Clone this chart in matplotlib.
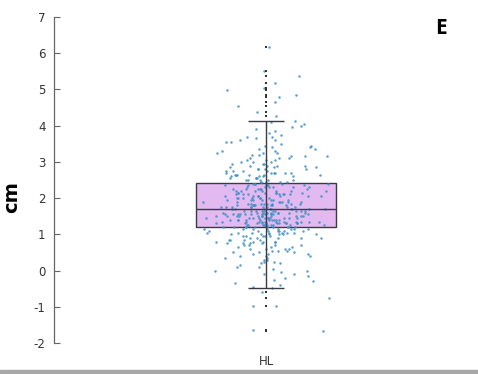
import numpy as np
import matplotlib
matplotlib.use("Agg")
import matplotlib.pyplot as plt
import seaborn as sns
from matplotlib.patches import Rectangle

# Box statistics (cm)
group_name = "HL"
box_q1 = 1.21
box_median = 1.71
box_q3 = 2.42
whisker_low = -0.49
whisker_high = 4.14
flier_values = [-1.66, -1.64, -0.98, -0.97, -0.76, -0.58,
                4.28, 4.39, 4.53, 4.66, 4.80, 4.85, 4.99, 5.03, 5.19, 5.36, 5.52, 6.18]

# Individual measurements: core levels (cm) with how many points sit at each level
core_levels = [-0.45, -0.40, -0.35, -0.30, -0.25, -0.20, -0.15, -0.10, -0.05,
               0.00, 0.05, 0.10, 0.15, 0.20, 0.25, 0.30, 0.35,
               0.40, 0.45, 0.50, 0.55, 0.60, 0.65, 0.70, 0.75,
               0.80, 0.85, 0.90, 0.95, 1.00, 1.05, 1.10, 1.15,
               1.20, 1.25, 1.30, 1.35, 1.40, 1.45, 1.50, 1.55, 1.60, 1.65,
               1.70, 1.75, 1.80, 1.85, 1.90, 1.95, 2.00, 2.05, 2.10, 2.15,
               2.20, 2.25, 2.30, 2.35, 2.40,
               2.45, 2.50, 2.55, 2.60, 2.65, 2.70, 2.75, 2.80,
               2.85, 2.90, 2.95, 3.00, 3.05, 3.10, 3.15,
               3.20, 3.25, 3.30, 3.35, 3.40, 3.45, 3.50, 3.55, 3.60,
               3.65, 3.70, 3.75, 3.80, 3.85, 3.90, 3.95, 4.00, 4.05, 4.10]
core_counts = [1, 1, 1, 1, 1, 1, 1, 2, 1,
               2, 1, 2, 1, 2, 2, 2, 2,
               3, 3, 3, 3, 4, 3, 4, 4,
               5, 4, 5, 5, 6, 7, 7, 8,
               10, 10, 11, 11, 10, 11, 11, 11, 10, 10,
               9, 9, 8, 8, 7, 7, 7, 7, 7, 6,
               7, 6, 6, 6, 5,
               5, 5, 4, 4, 6, 6, 4, 4,
               3, 4, 3, 3, 3, 3, 3,
               2, 3, 2, 2, 2, 2, 1, 2, 2,
               1, 2, 1, 1, 1, 1, 1, 1, 1, 1]
extra_values = [-0.49, 4.14]

point_values = np.concatenate([np.repeat(core_levels, core_counts),
                               extra_values, flier_values])

y_ticks = [-2, -1, 0, 1, 2, 3, 4, 5, 6, 7]

# points crowd round the centre line and thin out sideways:
# interleave a few strips of different jitter widths
jitter_widths = [0.035, 0.07, 0.105, 0.15]

fig = plt.figure(figsize=(4.78, 3.74), dpi=100)
ax = fig.add_axes([54 / 478, 1 - 343 / 374, 1 - 54 / 478, 326 / 374])

line_col = "#3b3b45"

# box (drawn first so the points sit on top)
ax.bar(0, box_q3 - box_q1, bottom=box_q1, width=0.33, color="#e2b9f1",
       edgecolor=line_col, linewidth=1.0, zorder=1)

# jittered points
np.random.seed(7)
n_strips = len(jitter_widths)
for i, jit in enumerate(jitter_widths):
    vals = point_values[i::n_strips]
    sns.stripplot(x=np.zeros(len(vals)), y=vals, native_scale=True,
                  jitter=jit, color="#3f90c2", size=1.8, alpha=0.85,
                  linewidth=0, ax=ax, zorder=2)

# whisker line through the box, caps and median
ax.vlines(0, whisker_low, whisker_high, color=line_col, linewidth=1.0, zorder=3)
ax.hlines([whisker_low, whisker_high], -0.042, 0.042, color=line_col, linewidth=1.0, zorder=3)
ax.hlines(box_median, -0.165, 0.165, color=line_col, linewidth=1.0, zorder=3)

# outliers
ax.scatter(np.zeros(len(flier_values)), flier_values, s=4, marker="s",
           color="#333333", linewidths=0, zorder=4)

ax.set_xlim(-0.5, 0.5)
ax.set_ylim(-2, 7)
ax.set_yticks(y_ticks)
ax.set_yticklabels([str(t) for t in y_ticks], fontsize=8.5, color="#333333")
ax.set_xticks([0])
ax.set_xticklabels([group_name], fontsize=8.5, color="#333333")
ax.tick_params(axis="y", direction="in", length=4, width=0.8, color="#666666", pad=6)
ax.tick_params(axis="x", length=0, pad=8.5)

for side in ["top", "right", "bottom"]:
    ax.spines[side].set_visible(False)
ax.spines["left"].set_color("#666666")
ax.spines["left"].set_linewidth(0.9)

ax.set_ylabel("cm", fontsize=14, fontweight="bold")
ax.yaxis.set_label_coords(-0.078, 0.448)

fig.text(441 / 478, 1 - 28 / 374, "E", ha="center", va="center",
         fontsize=15, fontweight="bold", family="Open Sans")

# grey frame edge at the bottom of the picture
fig.add_artist(Rectangle((0, 0), 1, 4 / 374, transform=fig.transFigure,
                         color="#a8a8a8", zorder=10))

fig.savefig("out.png", dpi=100)
